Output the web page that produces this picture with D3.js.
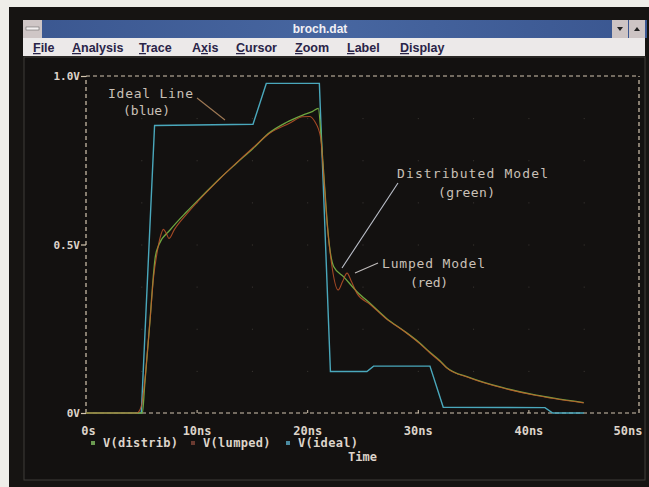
<!DOCTYPE html>
<html><head><meta charset="utf-8">
<script src="https://cdn.jsdelivr.net/npm/d3@7"></script>
<style>html,body{margin:0;padding:0;background:#efeee9;}svg{display:block;}</style>
</head><body>
<script>
// ---- data ----
const timeTickValues = [0, 10, 20, 30, 40, 50];
const timeTickLabels = ["0s", "10ns", "20ns", "30ns", "40ns", "50ns"];
const voltTickValues = [0, 0.5, 1.0];
const voltTickLabels = ["0V", "0.5V", "1.0V"];
const menuItems = ["File", "Analysis", "Trace", "Axis", "Cursor", "Zoom", "Label", "Display"];
const menuUnderline = [0, 0, 0, 1, 0, 0, 0, 0];
const legendNames = ["V(distrib)", "V(lumped)", "V(ideal)"];

const idealT = [0, 5.0, 6.2, 15.1, 16.3, 21.1, 22.1, 25.4, 26.0, 31.1, 32.3, 41.5, 42.2, 45];
const idealV = [0, 0, 0.853, 0.857, 0.978, 0.978, 0.123, 0.123, 0.139, 0.139, 0.017, 0.016, 0, 0];

const distribT = [0, 5.1, 5.3, 5.55, 5.8, 6.0, 6.25, 6.6, 7.6, 9.1, 10.6, 12.1, 13.6, 15.1, 16.6, 18.1, 19.6, 20.5, 21.0, 21.3, 21.6, 21.9, 22.4, 23.3, 24.5, 25.7, 27.2, 28.7, 30.2, 31.1, 32.0, 32.6, 34.7, 37.7, 40.7, 42.3, 45];
const distribV = [0, 0, 0.08, 0.18, 0.28, 0.37, 0.46, 0.50, 0.543, 0.597, 0.647, 0.696, 0.741, 0.785, 0.832, 0.862, 0.884, 0.895, 0.904, 0.80, 0.66, 0.53, 0.434, 0.404, 0.36, 0.325, 0.28, 0.245, 0.207, 0.18, 0.155, 0.135, 0.105, 0.075, 0.053, 0.044, 0.031];

const lumpedT = [0, 4.6, 5.0, 5.3, 5.6, 5.85, 6.1, 6.4, 6.7, 7.0, 7.3, 7.5, 8.0, 9.1, 10.6, 12.1, 13.6, 15.1, 16.6, 18.4, 19.6, 20.2, 20.7, 21.2, 21.5, 21.8, 22.2, 22.8, 23.2, 23.6, 24.0, 24.5, 25.7, 27.2, 28.7, 30.2, 31.1, 32.0, 32.6, 34.7, 37.7, 40.7, 42.3, 45];
const lumpedV = [0, 0, 0.02, 0.09, 0.2, 0.3, 0.4, 0.47, 0.52, 0.545, 0.53, 0.518, 0.545, 0.59, 0.645, 0.695, 0.742, 0.787, 0.83, 0.86, 0.879, 0.880, 0.864, 0.82, 0.70, 0.563, 0.444, 0.365, 0.39, 0.415, 0.39, 0.355, 0.322, 0.278, 0.244, 0.205, 0.178, 0.153, 0.134, 0.104, 0.074, 0.052, 0.043, 0.030];

// ---- drawing ----
const W = 649, H = 487;
const svg = d3.select("body").append("svg").attr("width", W).attr("height", H);

// outer window frame
svg.append("rect").attr("x", 0).attr("y", 0).attr("width", W).attr("height", H).attr("fill", "#efeee9");
svg.append("rect").attr("x", 9).attr("y", 7).attr("width", W - 9).attr("height", H - 7).attr("fill", "#161412");
svg.append("rect").attr("x", 24).attr("y", 57).attr("width", 621).attr("height", 423).attr("fill", "#131110")
  .attr("stroke", "#3e3c38").attr("stroke-width", 1);

// title bar
const defs = svg.append("defs");
const grad = defs.append("linearGradient").attr("id", "tb").attr("x1", 0).attr("x2", 1);
grad.append("stop").attr("offset", 0).attr("stop-color", "#3b5790");
grad.append("stop").attr("offset", 0.5).attr("stop-color", "#4766a0");
grad.append("stop").attr("offset", 1).attr("stop-color", "#3a5690");
svg.append("rect").attr("x", 23).attr("y", 20).attr("width", 624).attr("height", 18).attr("fill", "url(#tb)");
svg.append("rect").attr("x", 23).attr("y", 20).attr("width", 19).attr("height", 18).attr("fill", "#cfc6c6");
svg.append("rect").attr("x", 26).attr("y", 27).attr("width", 13).attr("height", 3).attr("fill", "#f4f0f0").attr("stroke", "#555").attr("stroke-width", 0.5);
svg.append("text").attr("x", 320).attr("y", 33).attr("text-anchor", "middle")
  .attr("font-family", "Liberation Sans, Arial, sans-serif").attr("font-size", 12).attr("font-weight", "bold")
  .attr("fill", "#f2f0f4").text("broch.dat");
[[612, "down"], [629, "up"]].forEach(([bx, dir]) => {
  svg.append("rect").attr("x", bx).attr("y", 20).attr("width", 16).attr("height", 18).attr("fill", "#cdc4c4");
  const cx = bx + 8, cy = 29;
  const pts = dir === "down" ? [[cx - 3, cy - 2], [cx + 3, cy - 2], [cx, cy + 2]] : [[cx - 3, cy + 2], [cx + 3, cy + 2], [cx, cy - 2]];
  svg.append("polygon").attr("points", pts.map(p => p.join(",")).join(" ")).attr("fill", "#222");
});

// menu bar
svg.append("rect").attr("x", 23).attr("y", 38).attr("width", 622).attr("height", 18).attr("fill", "#ece9e9");
const menuX = [33, 72, 139, 192, 236, 295, 347, 400];
menuItems.forEach((m, i) => {
  const t = svg.append("text").attr("x", menuX[i]).attr("y", 52)
    .attr("font-family", "Liberation Sans, Arial, sans-serif").attr("font-size", 12.5).attr("font-weight", "bold")
    .attr("fill", "#2a2448");
  const u = menuUnderline[i];
  t.append("tspan").text(m.slice(0, u));
  t.append("tspan").attr("text-decoration", "underline").text(m[u]);
  t.append("tspan").text(m.slice(u + 1));
});

// scales
const x = d3.scaleLinear().domain([0, 50]).range([86, 639]);
const y = d3.scaleLinear().domain([0, 1]).range([413, 76]);

const dashCol = "#d4c6b0";
const plot = svg.append("g");
// faint grid dots
for (let t = 5; t < 50; t += 5) {
  for (let v = 0.125; v < 1; v += 0.125) {
    plot.append("rect").attr("x", x(t)).attr("y", y(v)).attr("width", 1).attr("height", 1).attr("fill", "#3e3a36");
  }
}
// frame (dashed)
const frame = [[0, 0, 50, 0], [0, 1, 50, 1], [0, 0, 0, 1], [50, 0, 50, 1]];
frame.forEach(([t1, v1, t2, v2]) => {
  plot.append("line").attr("x1", x(t1)).attr("y1", y(v1)).attr("x2", x(t2)).attr("y2", y(v2))
    .attr("stroke", dashCol).attr("stroke-width", 1.2).attr("stroke-dasharray", "4,3");
});

// x axis ticks and labels
const xAxis = d3.axisBottom(x).tickValues(timeTickValues).tickSize(0).tickPadding(13)
  .tickFormat((d, i) => timeTickLabels[i]);
const gx = svg.append("g").attr("transform", `translate(0,${y(0)})`).call(xAxis);
gx.select(".domain").remove();
gx.selectAll("text").attr("fill", "#ddd4ca").attr("font-family", "DejaVu Sans Mono, monospace")
  .attr("font-size", 12).attr("font-weight", "bold");
gx.selectAll(".tick").filter((d) => d === 50).select("text").attr("text-anchor", "end").attr("dx", 3);
gx.selectAll(".tick").filter((d) => d === 0).select("text").attr("dx", 2);
gx.selectAll(".tick").filter((d) => d > 0 && d < 50).append("line")
  .attr("y1", 0).attr("y2", -3).attr("stroke", dashCol).attr("stroke-width", 1);

// y axis
const yAxis = d3.axisLeft(y).tickValues(voltTickValues).tickSize(5).tickPadding(1)
  .tickFormat((d, i) => voltTickLabels[i]);
const gy = svg.append("g").attr("transform", `translate(${x(0)},0)`).call(yAxis);
gy.select(".domain").remove();
gy.selectAll("line").attr("stroke", dashCol).attr("stroke-width", 1.2);
gy.selectAll("text").attr("fill", "#ddd4ca").attr("font-family", "DejaVu Sans Mono, monospace")
  .attr("font-size", 11).attr("font-weight", "bold");

// series
const line = d3.line().x(d => x(d[0])).y(d => y(d[1]));
const smooth = d3.line().x(d => x(d[0])).y(d => y(d[1])).curve(d3.curveMonotoneX);
const idealData = idealT.map((t, i) => [t, idealV[i]]);
const distribData = distribT.map((t, i) => [t, distribV[i]]);
const lumpedData = lumpedT.map((t, i) => [t, lumpedV[i]]);

svg.append("path").datum(idealData).attr("d", line).attr("fill", "none")
  .attr("stroke", "#4aa8bc").attr("stroke-width", 1.4);
svg.append("path").datum(distribData).attr("d", smooth).attr("fill", "none")
  .attr("stroke", "#6ea640").attr("stroke-width", 1.3);
svg.append("path").datum(lumpedData).attr("d", smooth).attr("fill", "none")
  .attr("stroke", "#c8582a").attr("stroke-width", 1.1).attr("stroke-opacity", 0.8);

// legend
const legendX = [103, 203, 298];
const legendCol = ["#6a9a50", "#6a3a30", "#4a8aa0"];
legendNames.forEach((n, i) => {
  svg.append("rect").attr("x", legendX[i] - 12).attr("y", 441).attr("width", 4).attr("height", 4).attr("fill", legendCol[i]);
  svg.append("text").attr("x", legendX[i]).attr("y", 447).attr("fill", "#ddd4ca")
    .attr("font-family", "DejaVu Sans Mono, monospace").attr("font-size", 12).attr("font-weight", "bold")
    .attr("textLength", n.length * 7.5).attr("lengthAdjust", "spacing").text(n);
});
svg.append("text").attr("x", 348).attr("y", 461).attr("fill", "#ddd4ca")
  .attr("font-family", "DejaVu Sans Mono, monospace").attr("font-size", 12).attr("font-weight", "bold").text("Time");

// annotations
const annoFont = "DejaVu Sans Mono, monospace";
function anno(txt, xx, yy, len) {
  svg.append("text").attr("x", xx).attr("y", yy).attr("fill", "#c9c0b7").attr("font-family", annoFont)
    .attr("font-size", 13).attr("textLength", len).attr("lengthAdjust", "spacing").text(txt);
}
anno("Ideal Line", 108, 98, 85);
anno("(blue)", 123, 115, 47);
svg.append("line").attr("x1", 197).attr("y1", 98).attr("x2", 225).attr("y2", 120).attr("stroke", "#a07a55").attr("stroke-width", 1.1);
anno("Distributed Model", 397, 178, 151);
anno("(green)", 438, 197, 57);
svg.append("line").attr("x1", 398).attr("y1", 183).attr("x2", 342).attr("y2", 268).attr("stroke", "#bcc0ca").attr("stroke-width", 1.1);
anno("Lumped Model", 382, 268, 103);
anno("(red)", 410, 287, 38);
svg.append("line").attr("x1", 378).attr("y1", 263).attr("x2", 355).attr("y2", 273).attr("stroke", "#c0bcbc").attr("stroke-width", 1.1);
</script>
</body></html>
